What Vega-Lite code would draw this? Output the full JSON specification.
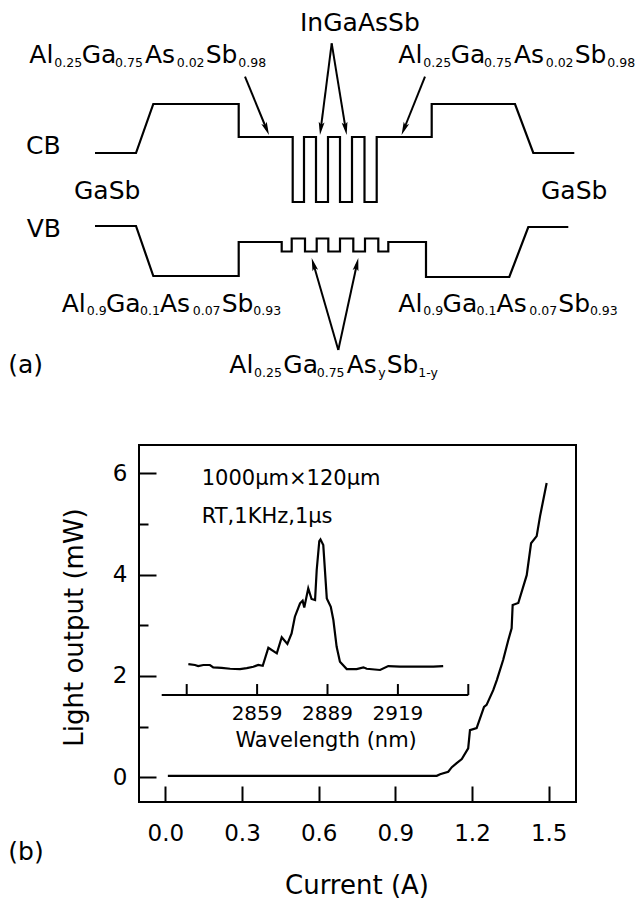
{
  "$schema": "https://vega.github.io/schema/vega-lite/v6.json",
  "autosize": {"type": "none"},
  "padding": {"left": 139, "top": 445, "right": 59, "bottom": 97},
  "width": 437,
  "height": 357,
  "background": "white",
  "config": {
    "view": {"stroke": "black", "strokeWidth": 2},
    "axis": {
      "labelFont": "DejaVu Sans",
      "titleFont": "DejaVu Sans",
      "labelColor": "black",
      "titleColor": "black",
      "tickColor": "black",
      "titleFontWeight": "normal",
      "grid": false,
      "domain": false
    }
  },
  "datasets": {
    "li": [
      {"current": 0.01, "power": 0.03},
      {"current": 0.3, "power": 0.03},
      {"current": 0.6, "power": 0.03},
      {"current": 0.9, "power": 0.03},
      {"current": 1.062, "power": 0.03},
      {"current": 1.075, "power": 0.06},
      {"current": 1.107, "power": 0.11},
      {"current": 1.121, "power": 0.2},
      {"current": 1.14, "power": 0.28},
      {"current": 1.16, "power": 0.36},
      {"current": 1.185, "power": 0.57},
      {"current": 1.192, "power": 0.93},
      {"current": 1.218, "power": 0.97},
      {"current": 1.247, "power": 1.39},
      {"current": 1.257, "power": 1.43},
      {"current": 1.283, "power": 1.72},
      {"current": 1.297, "power": 1.92},
      {"current": 1.322, "power": 2.32},
      {"current": 1.342, "power": 2.71},
      {"current": 1.355, "power": 2.94},
      {"current": 1.359, "power": 3.4},
      {"current": 1.381, "power": 3.44},
      {"current": 1.414, "power": 3.99},
      {"current": 1.431, "power": 4.62},
      {"current": 1.453, "power": 4.76},
      {"current": 1.466, "power": 5.15},
      {"current": 1.492, "power": 5.81}
    ],
    "notes": [
      {"current": 0.1424, "power": 5.769, "t": "1000μm×120μm"},
      {"current": 0.1424, "power": 5.013, "t": "RT,1KHz,1μs"}
    ],
    "spectrum": [
      {"wavelength": 2829.7, "intensity": 0.199},
      {"wavelength": 2832.5, "intensity": 0.193},
      {"wavelength": 2833.9, "intensity": 0.186},
      {"wavelength": 2836.1, "intensity": 0.193},
      {"wavelength": 2838.9, "intensity": 0.193},
      {"wavelength": 2840.3, "intensity": 0.178},
      {"wavelength": 2843.9, "intensity": 0.175},
      {"wavelength": 2847.5, "intensity": 0.169},
      {"wavelength": 2851.7, "intensity": 0.167},
      {"wavelength": 2854.6, "intensity": 0.173},
      {"wavelength": 2857.4, "intensity": 0.182},
      {"wavelength": 2859.5, "intensity": 0.193},
      {"wavelength": 2861.4, "intensity": 0.188},
      {"wavelength": 2863.8, "intensity": 0.304},
      {"wavelength": 2867.4, "intensity": 0.268},
      {"wavelength": 2869.5, "intensity": 0.371},
      {"wavelength": 2871.9, "intensity": 0.328},
      {"wavelength": 2873.7, "intensity": 0.396},
      {"wavelength": 2875.1, "intensity": 0.503},
      {"wavelength": 2877.3, "intensity": 0.589},
      {"wavelength": 2878.4, "intensity": 0.606},
      {"wavelength": 2879.1, "intensity": 0.562},
      {"wavelength": 2880.8, "intensity": 0.685},
      {"wavelength": 2882.2, "intensity": 0.617},
      {"wavelength": 2883.7, "intensity": 0.61},
      {"wavelength": 2884.4, "intensity": 0.803},
      {"wavelength": 2885.5, "intensity": 0.989},
      {"wavelength": 2886.0, "intensity": 1.0},
      {"wavelength": 2887.2, "intensity": 0.963},
      {"wavelength": 2888.7, "intensity": 0.621},
      {"wavelength": 2890.4, "intensity": 0.567},
      {"wavelength": 2891.5, "intensity": 0.482},
      {"wavelength": 2892.9, "intensity": 0.31},
      {"wavelength": 2894.3, "intensity": 0.214},
      {"wavelength": 2897.2, "intensity": 0.167},
      {"wavelength": 2901.4, "intensity": 0.167},
      {"wavelength": 2904.3, "intensity": 0.178},
      {"wavelength": 2905.7, "intensity": 0.169},
      {"wavelength": 2911.4, "intensity": 0.161},
      {"wavelength": 2914.9, "intensity": 0.186},
      {"wavelength": 2919.9, "intensity": 0.182},
      {"wavelength": 2927.0, "intensity": 0.182},
      {"wavelength": 2934.1, "intensity": 0.182},
      {"wavelength": 2938.3, "intensity": 0.186}
    ],
    "insetAxis": [{"from": 2818.35, "to": 2949}],
    "insetTicks": [
      {"wavelength": 2829, "label": ""},
      {"wavelength": 2859, "label": "2859"},
      {"wavelength": 2889, "label": "2889"},
      {"wavelength": 2919, "label": "2919"},
      {"wavelength": 2949, "label": ""}
    ],
    "bands": [
      {"band": "CB", "step": 0, "pos": 0, "energy": 0.73},
      {"band": "CB", "step": 1, "pos": 8.2, "energy": 0.73},
      {"band": "CB", "step": 2, "pos": 11.66, "energy": 1.22},
      {"band": "CB", "step": 3, "pos": 28.74, "energy": 1.22},
      {"band": "CB", "step": 4, "pos": 28.74, "energy": 0.89},
      {"band": "CB", "step": 5, "pos": 39.54, "energy": 0.89},
      {"band": "CB", "step": 6, "pos": 39.54, "energy": 0.24},
      {"band": "CB", "step": 7, "pos": 41.8, "energy": 0.24},
      {"band": "CB", "step": 8, "pos": 41.8, "energy": 0.89},
      {"band": "CB", "step": 9, "pos": 44.2, "energy": 0.89},
      {"band": "CB", "step": 10, "pos": 44.2, "energy": 0.24},
      {"band": "CB", "step": 11, "pos": 46.6, "energy": 0.24},
      {"band": "CB", "step": 12, "pos": 46.6, "energy": 0.89},
      {"band": "CB", "step": 13, "pos": 49, "energy": 0.89},
      {"band": "CB", "step": 14, "pos": 49, "energy": 0.24},
      {"band": "CB", "step": 15, "pos": 51.4, "energy": 0.24},
      {"band": "CB", "step": 16, "pos": 51.4, "energy": 0.89},
      {"band": "CB", "step": 17, "pos": 53.9, "energy": 0.89},
      {"band": "CB", "step": 18, "pos": 53.9, "energy": 0.24},
      {"band": "CB", "step": 19, "pos": 56.34, "energy": 0.24},
      {"band": "CB", "step": 20, "pos": 56.34, "energy": 0.89},
      {"band": "CB", "step": 21, "pos": 67.34, "energy": 0.89},
      {"band": "CB", "step": 22, "pos": 67.34, "energy": 1.22},
      {"band": "CB", "step": 23, "pos": 84, "energy": 1.22},
      {"band": "CB", "step": 24, "pos": 87.66, "energy": 0.73},
      {"band": "CB", "step": 25, "pos": 95.86, "energy": 0.73},
      {"band": "VB", "step": 0, "pos": 0, "energy": 0.0},
      {"band": "VB", "step": 1, "pos": 8.2, "energy": 0.0},
      {"band": "VB", "step": 2, "pos": 11.66, "energy": -0.5},
      {"band": "VB", "step": 3, "pos": 28.74, "energy": -0.5},
      {"band": "VB", "step": 4, "pos": 28.74, "energy": -0.16},
      {"band": "VB", "step": 5, "pos": 37.34, "energy": -0.16},
      {"band": "VB", "step": 6, "pos": 37.34, "energy": -0.255},
      {"band": "VB", "step": 7, "pos": 39.34, "energy": -0.255},
      {"band": "VB", "step": 8, "pos": 39.34, "energy": -0.125},
      {"band": "VB", "step": 9, "pos": 42, "energy": -0.125},
      {"band": "VB", "step": 10, "pos": 42, "energy": -0.255},
      {"band": "VB", "step": 11, "pos": 44.34, "energy": -0.255},
      {"band": "VB", "step": 12, "pos": 44.34, "energy": -0.125},
      {"band": "VB", "step": 13, "pos": 46.66, "energy": -0.125},
      {"band": "VB", "step": 14, "pos": 46.66, "energy": -0.255},
      {"band": "VB", "step": 15, "pos": 49, "energy": -0.255},
      {"band": "VB", "step": 16, "pos": 49, "energy": -0.125},
      {"band": "VB", "step": 17, "pos": 51.66, "energy": -0.125},
      {"band": "VB", "step": 18, "pos": 51.66, "energy": -0.255},
      {"band": "VB", "step": 19, "pos": 54, "energy": -0.255},
      {"band": "VB", "step": 20, "pos": 54, "energy": -0.125},
      {"band": "VB", "step": 21, "pos": 56.66, "energy": -0.125},
      {"band": "VB", "step": 22, "pos": 56.66, "energy": -0.255},
      {"band": "VB", "step": 23, "pos": 58.66, "energy": -0.255},
      {"band": "VB", "step": 24, "pos": 58.66, "energy": -0.16},
      {"band": "VB", "step": 25, "pos": 66.2, "energy": -0.16},
      {"band": "VB", "step": 26, "pos": 66.2, "energy": -0.51},
      {"band": "VB", "step": 27, "pos": 82.86, "energy": -0.51},
      {"band": "VB", "step": 28, "pos": 86.66, "energy": -0.01},
      {"band": "VB", "step": 29, "pos": 94.66, "energy": -0.01}
    ],
    "arrows": [
      {"pos": 30, "energy": 1.493, "pos2": 34.3, "energy2": 0.97, "heading": 157.6},
      {"pos": 66, "energy": 1.493, "pos2": 61.8, "energy2": 0.97, "heading": 202.1},
      {"pos": 47.34, "energy": 1.827, "pos2": 45.16, "energy2": 0.974, "heading": 187.3},
      {"pos": 47.34, "energy": 1.827, "pos2": 50.12, "energy2": 0.974, "heading": 170.7},
      {"pos": 48.66, "energy": -1.24, "pos2": 43.7, "energy2": -0.382, "heading": 343.9},
      {"pos": 48.66, "energy": -1.24, "pos2": 52.38, "energy2": -0.383, "heading": 12.2}
    ],
    "labels": [
      {"t": "InGaAsSb", "pos": 41.0, "energy": 1.953},
      {"t": "CB", "pos": -13.8, "energy": 0.72},
      {"t": "VB", "pos": -13.66, "energy": -0.113},
      {"t": "GaSb", "pos": -4.2, "energy": 0.267},
      {"t": "GaSb", "pos": 89.2, "energy": 0.267},
      {"t": "(a)", "pos": -17.34, "energy": -1.47},
      {"t": "(b)", "pos": -17.34, "energy": -6.34},
      {"t": "Al", "pos": -13.14, "energy": 1.627},
      {"t": "Ga", "pos": -2.66, "energy": 1.627},
      {"t": "As", "pos": 10, "energy": 1.627},
      {"t": "Sb", "pos": 22.14, "energy": 1.627},
      {"t": "Al", "pos": 60.66, "energy": 1.627},
      {"t": "Ga", "pos": 71.14, "energy": 1.627},
      {"t": "As", "pos": 83.8, "energy": 1.627},
      {"t": "Sb", "pos": 95.94, "energy": 1.627},
      {"t": "Al", "pos": -6.66, "energy": -0.857},
      {"t": "Ga", "pos": 2.2, "energy": -0.857},
      {"t": "As", "pos": 13, "energy": -0.857},
      {"t": "Sb", "pos": 25.34, "energy": -0.857},
      {"t": "Al", "pos": 60.66, "energy": -0.857},
      {"t": "Ga", "pos": 69.52, "energy": -0.857},
      {"t": "As", "pos": 80.32, "energy": -0.857},
      {"t": "Sb", "pos": 92.66, "energy": -0.857},
      {"t": "Al", "pos": 26.86, "energy": -1.473},
      {"t": "Ga", "pos": 37.66, "energy": -1.473},
      {"t": "As", "pos": 50.34, "energy": -1.473},
      {"t": "Sb", "pos": 58.34, "energy": -1.473}
    ],
    "subscripts": [
      {"t": "0.25", "pos": -8.14, "energy": 1.593},
      {"t": "0.75", "pos": 4, "energy": 1.593},
      {"t": "0.02", "pos": 16.34, "energy": 1.593},
      {"t": "0.98", "pos": 28.66, "energy": 1.593},
      {"t": "0.25", "pos": 65.66, "energy": 1.593},
      {"t": "0.75", "pos": 77.8, "energy": 1.593},
      {"t": "0.02", "pos": 90.14, "energy": 1.593},
      {"t": "0.98", "pos": 102.46, "energy": 1.593},
      {"t": "0.9", "pos": -1.66, "energy": -0.89},
      {"t": "0.1", "pos": 9, "energy": -0.89},
      {"t": "0.07", "pos": 19.54, "energy": -0.89},
      {"t": "0.93", "pos": 31.66, "energy": -0.89},
      {"t": "0.9", "pos": 65.66, "energy": -0.89},
      {"t": "0.1", "pos": 76.32, "energy": -0.89},
      {"t": "0.07", "pos": 86.86, "energy": -0.89},
      {"t": "0.93", "pos": 98.98, "energy": -0.89},
      {"t": "0.25", "pos": 31.8, "energy": -1.507},
      {"t": "0.75", "pos": 44.34, "energy": -1.507},
      {"t": "y", "pos": 56.66, "energy": -1.507},
      {"t": "1-y", "pos": 64.66, "energy": -1.507}
    ]
  },
  "layer": [
    {
      "layer": [
        {
          "data": {"name": "li"},
          "mark": {"type": "line", "color": "black", "strokeWidth": 2.2},
          "encoding": {
            "x": {
              "field": "current",
              "type": "quantitative",
              "scale": {"domain": [-0.1029, 1.6068], "nice": false, "zero": false},
              "axis": {
                "values": [0, 0.3, 0.6, 0.9, 1.2, 1.5],
                "format": ".1f",
                "tickSize": -16,
                "tickWidth": 2,
                "labelPadding": 36,
                "labelFontSize": 23,
                "labelFlush": false,
                "labelOverlap": false,
                "labelBound": false,
                "title": "Current (A)",
                "titleFontSize": 26,
                "titleBaseline": "alphabetic",
                "titleAlign": "center",
                "titleX": 217.5,
                "titleY": 91.3
              }
            },
            "y": {
              "field": "power",
              "type": "quantitative",
              "scale": {"domain": [-0.4875, 6.559], "nice": false, "zero": false},
              "axis": {
                "values": [0, 1, 2, 3, 4, 5, 6],
                "labelExpr": "datum.value % 2 === 0 ? datum.label : ''",
                "tickSize": {"condition": {"test": "datum.value % 2 === 0", "value": -17}, "value": -9},
                "tickWidth": 2,
                "labelPadding": 29,
                "labelFontSize": 23,
                "labelOverlap": false,
                "labelBound": false,
                "title": "Light output (mW)",
                "titleFontSize": 26,
                "titleBaseline": "alphabetic",
                "titleAlign": "center",
                "titleAngle": -90,
                "titleX": -57,
                "titleY": 182
              }
            }
          }
        },
        {
          "data": {"name": "notes"},
          "mark": {"type": "text", "align": "left", "baseline": "alphabetic", "font": "DejaVu Sans", "fontSize": 21, "color": "black"},
          "encoding": {
            "x": {"field": "current", "type": "quantitative"},
            "y": {"field": "power", "type": "quantitative"},
            "text": {"field": "t"}
          }
        }
      ]
    },
    {
      "layer": [
        {
          "data": {"name": "spectrum"},
          "mark": {"type": "line", "color": "black", "strokeWidth": 2.2},
          "encoding": {
            "x": {
              "field": "wavelength",
              "type": "quantitative",
              "scale": {"domain": [2808.67, 2994.9], "nice": false, "zero": false},
              "axis": null
            },
            "y": {
              "field": "intensity",
              "type": "quantitative",
              "scale": {"domain": [-0.687, 1.606], "nice": false, "zero": false},
              "axis": null
            }
          }
        },
        {
          "data": {"name": "insetAxis"},
          "mark": {"type": "rule", "color": "black", "strokeWidth": 2},
          "encoding": {
            "x": {"field": "from", "type": "quantitative"},
            "x2": {"field": "to"},
            "y": {"datum": 0, "type": "quantitative"}
          }
        },
        {
          "data": {"name": "insetTicks"},
          "mark": {"type": "rule", "color": "black", "strokeWidth": 2},
          "encoding": {
            "x": {"field": "wavelength", "type": "quantitative"},
            "y": {"datum": 0, "type": "quantitative"},
            "y2": {"datum": 0.0707}
          }
        },
        {
          "data": {"name": "insetTicks"},
          "mark": {"type": "text", "align": "center", "baseline": "alphabetic", "font": "DejaVu Sans", "fontSize": 20, "color": "black"},
          "encoding": {
            "x": {"field": "wavelength", "type": "quantitative"},
            "y": {"datum": -0.1606, "type": "quantitative"},
            "text": {"field": "label"}
          }
        },
        {
          "data": {"values": [{"wavelength": 2888.4, "intensity": -0.334, "t": "Wavelength (nm)"}]},
          "mark": {"type": "text", "align": "center", "baseline": "alphabetic", "font": "DejaVu Sans", "fontSize": 21, "color": "black"},
          "encoding": {
            "x": {"field": "wavelength", "type": "quantitative"},
            "y": {"field": "intensity", "type": "quantitative"},
            "text": {"field": "t"}
          }
        }
      ]
    },
    {
      "layer": [
        {
          "data": {"name": "bands"},
          "mark": {"type": "line", "color": "black", "strokeWidth": 2.2},
          "encoding": {
            "x": {
              "field": "pos",
              "type": "quantitative",
              "scale": {"domain": [8.8, 96.2], "nice": false, "zero": false},
              "axis": null
            },
            "y": {
              "field": "energy",
              "type": "quantitative",
              "scale": {"domain": [-5.76, -2.19], "nice": false, "zero": false},
              "axis": null
            },
            "detail": {"field": "band"},
            "order": {"field": "step", "type": "quantitative"}
          }
        },
        {
          "data": {"name": "arrows"},
          "mark": {"type": "rule", "color": "black", "strokeWidth": 2},
          "encoding": {
            "x": {"field": "pos", "type": "quantitative"},
            "y": {"field": "energy", "type": "quantitative"},
            "x2": {"field": "pos2"},
            "y2": {"field": "energy2"}
          }
        },
        {
          "data": {"name": "arrows"},
          "mark": {"type": "point", "shape": "M0,-1L0.45,1L0,0.6L-0.45,1Z", "filled": true, "color": "black", "opacity": 1, "size": 170},
          "encoding": {
            "x": {"field": "pos2", "type": "quantitative"},
            "y": {"field": "energy2", "type": "quantitative"},
            "angle": {"field": "heading", "type": "quantitative", "scale": null}
          }
        },
        {
          "data": {"name": "labels"},
          "mark": {"type": "text", "align": "left", "baseline": "alphabetic", "font": "DejaVu Sans", "fontSize": 25, "color": "black"},
          "encoding": {
            "x": {"field": "pos", "type": "quantitative"},
            "y": {"field": "energy", "type": "quantitative"},
            "text": {"field": "t"}
          }
        },
        {
          "data": {"name": "subscripts"},
          "mark": {"type": "text", "align": "left", "baseline": "alphabetic", "font": "DejaVu Sans", "fontSize": 12.5, "color": "black"},
          "encoding": {
            "x": {"field": "pos", "type": "quantitative"},
            "y": {"field": "energy", "type": "quantitative"},
            "text": {"field": "t"}
          }
        }
      ]
    }
  ],
  "resolve": {"scale": {"x": "independent", "y": "independent"}}
}
